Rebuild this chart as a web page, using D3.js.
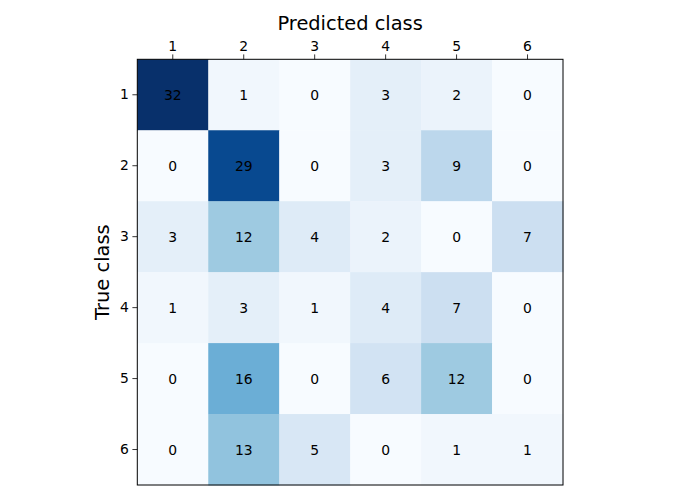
<!DOCTYPE html>
<html><head><meta charset="utf-8">
<script src="https://cdn.jsdelivr.net/npm/d3@7"></script>
<style>body{margin:0;background:#fff}text{font-family:"DejaVu Sans",sans-serif}</style>
</head><body>
<svg id="c" width="700" height="500"></svg>
<script>
const classes = ["1","2","3","4","5","6"];
const matrix = [
  [32, 1, 0, 3, 2, 0],
  [0, 29, 0, 3, 9, 0],
  [3, 12, 4, 2, 0, 7],
  [1, 3, 1, 4, 7, 0],
  [0, 16, 0, 6, 12, 0],
  [0, 13, 5, 0, 1, 1]
];
const blues = ["#f7fbff","#deebf7","#c6dbef","#9ecae1","#6baed6","#4292c6","#2171b5","#08519c","#08306b"];

const svg = d3.select("#c");
const L = 137.3, R = 563, T = 59.3, B = 485;
const x = d3.scaleBand().domain(classes).range([L, R]);
const y = d3.scaleBand().domain(classes).range([T, B]);
const vmax = d3.max(matrix.flat());
const color = d3.scaleLinear()
  .domain(blues.map((_, i) => i / (blues.length - 1) * vmax))
  .range(blues).interpolate(d3.interpolateRgb);

const cells = [];
matrix.forEach((row, i) => row.forEach((v, j) => cells.push({r: classes[i], c: classes[j], v})));

svg.append("g").selectAll("rect").data(cells).join("rect")
  .attr("x", d => x(d.c)).attr("y", d => y(d.r))
  .attr("width", x.bandwidth() + 0.5).attr("height", y.bandwidth() + 0.5)
  .attr("fill", d => color(d.v));

svg.append("g").selectAll("text").data(cells).join("text")
  .attr("x", d => x(d.c) + x.bandwidth() / 2)
  .attr("y", d => y(d.r) + y.bandwidth() / 2)
  .attr("text-anchor", "middle").attr("dominant-baseline", "central")
  .attr("font-size", "13.9px").attr("fill", "#000")
  .text(d => d.v);

const xa = svg.append("g").attr("transform", `translate(0,${T})`)
  .call(d3.axisTop(x).tickSize(4.9).tickPadding(3.5));
const ya = svg.append("g").attr("transform", `translate(${L},0)`)
  .call(d3.axisLeft(y).tickSize(4.9).tickPadding(3.5));
[xa, ya].forEach(a => {
  a.select(".domain").remove();
  a.selectAll("text").attr("font-size", "13.9px").attr("font-family", "DejaVu Sans").attr("fill", "#000");
  a.selectAll("line").attr("stroke", "#000").attr("stroke-width", 0.8);
});

svg.append("rect").attr("x", L).attr("y", T).attr("width", R - L).attr("height", B - T)
  .attr("fill", "none").attr("stroke", "#000").attr("stroke-width", 1);

svg.append("text").attr("x", (L + R) / 2).attr("y", 30).attr("text-anchor", "middle")
  .attr("font-size", "19.4px").text("Predicted class");
svg.append("text").attr("transform", `translate(109,${(T + B) / 2}) rotate(-90)`)
  .attr("text-anchor", "middle").attr("font-size", "19.4px").text("True class");
</script>
</body></html>
